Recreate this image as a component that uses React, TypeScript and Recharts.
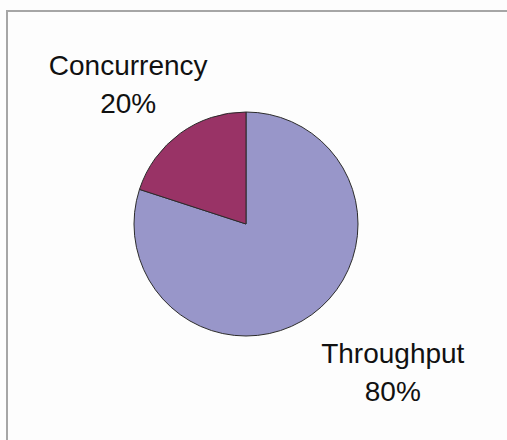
import React from 'react';
import { PieChart, Pie, Cell } from 'recharts';

const names = ['Throughput', 'Concurrency'];
const shares = [80, 20];
const colors = ['#9896c9', '#993366'];

const data = names.map((name, i) => ({ name, value: shares[i] }));

// nudges applied to the label anchor computed from the slice's midAngle
const labelShift = [
  { dx: 41, dy: 3 },
  { dx: -12, dy: 7 },
];

const renderLabel = (props: any) => {
  const { cx, cy, midAngle, index, name, percent } = props;
  const RAD = Math.PI / 180;
  const r = 180;
  const x = cx + r * Math.cos(-midAngle * RAD) + labelShift[index].dx;
  const y = cy + r * Math.sin(-midAngle * RAD) + labelShift[index].dy;
  return (
    <text
      x={x}
      y={y}
      textAnchor="middle"
      fill="#111"
      fontSize={28}
      fontFamily="'Liberation Sans', Arial, sans-serif"
    >
      <tspan x={x} y={y - 10}>{name}</tspan>
      <tspan x={x} y={y + 28}>{`${Math.round(percent * 100)}%`}</tspan>
    </text>
  );
};

export default function App() {
  return (
    <div
      style={{
        position: 'absolute',
        left: 0,
        top: 0,
        width: 507,
        height: 440,
        overflow: 'hidden',
        background: '#fdfdfd',
      }}
    >
      <div
        style={{
          position: 'absolute',
          left: 6,
          top: 10,
          width: 540,
          height: 460,
          border: '2px solid #a6a6a6',
        }}
      />
      <div style={{ position: 'absolute', left: 0, top: 0 }}>
        <PieChart width={507} height={440}>
          <Pie
            data={data}
            dataKey="value"
            nameKey="name"
            cx={241}
            cy={219}
            outerRadius={112}
            startAngle={90}
            endAngle={-270}
            stroke="#2b2b2b"
            strokeWidth={1}
            label={renderLabel}
            labelLine={false}
            isAnimationActive={false}
          >
            {data.map((d, i) => (
              <Cell key={d.name} fill={colors[i]} />
            ))}
          </Pie>
        </PieChart>
      </div>
    </div>
  );
}
